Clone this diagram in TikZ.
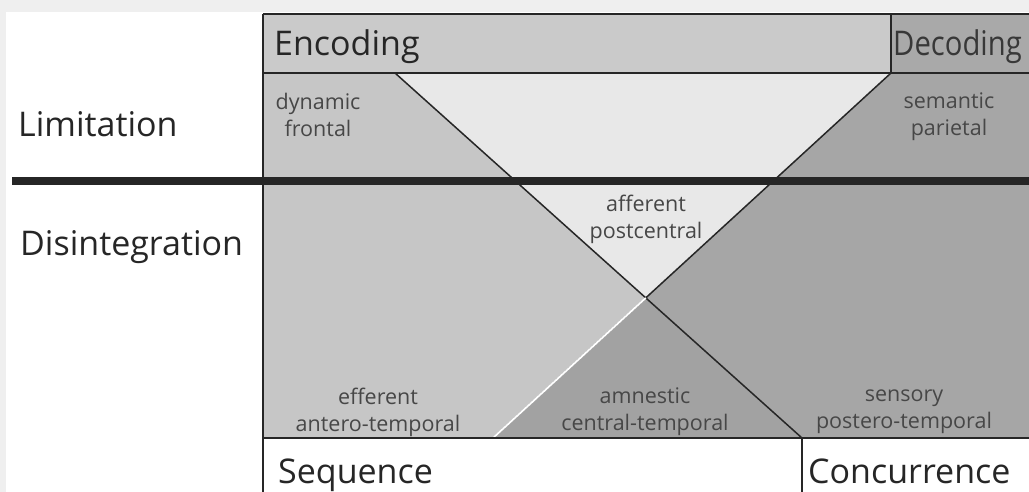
\documentclass[tikz,border=0pt]{standalone}
\usepackage{fontspec}
\usepackage{graphicx}
\setmainfont{Open Sans}
\usetikzlibrary{intersections}
\definecolor{pagegray}{HTML}{EFEFEF}
\definecolor{encgray}{HTML}{CACACA}
\definecolor{decgray}{HTML}{A9A9A9}
\definecolor{lightzone}{HTML}{E8E8E8}
\definecolor{leftzone}{HTML}{C6C6C6}
\definecolor{rightzone}{HTML}{A6A6A6}
\definecolor{lowzone}{HTML}{A2A2A2}
\definecolor{ink}{HTML}{262626}
\begin{document}
\begin{tikzpicture}[x=1pt,y=-1pt,
  frame/.style={draw=ink, line width=1.6pt},
  diag/.style={draw=ink, line width=1.5pt},
  bigtext/.style={font=\fontsize{34}{38}\selectfont, text=ink, inner sep=0pt},
  zonetext/.style={font=\fontsize{21.5}{27}\selectfont, text=black!72, align=center, inner sep=0pt},
]
\useasboundingbox (0,0) rectangle (1029,492);
\fill[pagegray] (0,0) rectangle (1029,492);
\fill[white] (6,12) rectangle (1029,492);

% corners of the chart area and the ends of the two diagonals
\coordinate (TL) at (263,73);
\coordinate (TR) at (1029,73);
\coordinate (BL) at (263,438);
\coordinate (BR) at (1029,438);
\coordinate (A) at (395,73);
\coordinate (B) at (891,73);
\coordinate (C) at (493,438);
\coordinate (D) at (802,438);
\path[name path=down] (A) -- (D);
\path[name path=up] (B) -- (C);
\path[name intersections={of=down and up, by=X}];

% header bands
\fill[encgray] (263,14) rectangle (891,73);
\fill[decgray] (891,14) rectangle (1029,73);

% the four zones
\fill[leftzone] (TL) -- (A) -- (X) -- (C) -- (BL) -- cycle;
\fill[lightzone] (A) -- (B) -- (X) -- cycle;
\fill[rightzone] (B) -- (TR) -- (BR) -- (D) -- (X) -- cycle;
\fill[lowzone] (X) -- (D) -- (C) -- cycle;

% diagonals; the lower half of the rising one is a white rule with a dark edge
\draw[diag] (A) -- (D);
\draw[diag] (B) -- (X);
\draw[draw=ink, line width=1.2pt, shift={(0.9,0.9)}] (X) -- (C);
\draw[draw=white, line width=1.8pt] (X) -- (C);

% frame lines
\draw[frame] (263,14) -- (1029,14);
\draw[frame] (TL) -- (TR);
\draw[frame] (BL) -- (BR);
\draw[frame] (263,14) -- (263,492);
\draw[frame] (891,14) -- (B);
\draw[frame] (D) -- (802,492);

% dividing bar between the two rows
\coordinate (barL) at (12,181);
\coordinate (barR) at (1029,181);
\draw[draw=ink, line width=8pt] (barL) -- (barR);

% headings
\node[bigtext, anchor=base west] (enc) at (274,56) {Encoding};
\node[bigtext, anchor=base west, text=black!78] (dec) at (893,56) {\scalebox{0.86}[1]{Decoding}};
\node[bigtext, anchor=base west] (lim) at (18,137) {Limitation};
\node[bigtext, anchor=base west] (dis) at (20,255) {Disintegration};
\node[bigtext, anchor=base west] (seq) at (278,483) {Sequence};
\node[bigtext, anchor=base west] (con) at (808,483) {Concurrence};

% zone labels
\node[zonetext] (dyn) at (318,115) {dynamic\\frontal};
\node[zonetext] (sem) at (949,117) {semantic\\parietal};
\node[zonetext] (aff) at (646,219) {afferent\\postcentral};
\node[zonetext] (eff) at (378,412) {efferent\\antero-temporal};
\node[zonetext] (amn) at (645,412) {amnestic\\central-temporal};
\node[zonetext] (sen) at (904,412) {sensory\\postero-temporal};
\end{tikzpicture}
\end{document}
